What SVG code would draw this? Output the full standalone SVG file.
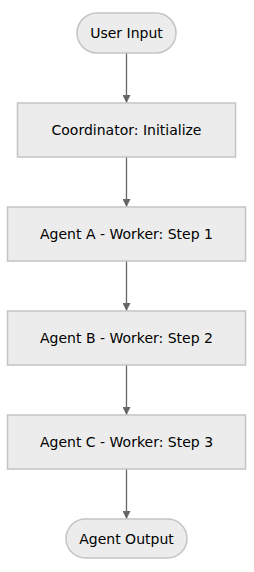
<svg xmlns="http://www.w3.org/2000/svg" width="254" height="572" viewBox="0 0 254 572">
<defs>
<style>
.n{fill:#ececec;stroke:#c4c4c4;stroke-width:1.5}
.t{font-family:"DejaVu Sans",Verdana,sans-serif;font-size:14px;fill:#000;text-anchor:middle;dominant-baseline:central}
.e{stroke:#666;stroke-width:1.3;fill:none;marker-end:url(#ah)}
</style>
<marker id="ah" viewBox="0 0 10 10" refX="10" refY="5" markerWidth="8" markerHeight="8" markerUnits="userSpaceOnUse" orient="auto">
<path d="M0,0 L10,5 L0,10 z" fill="#666"/>
</marker>
</defs>
<rect width="254" height="572" fill="#fff"/>
<g id="edges">
<line class="e" x1="126.5" y1="53" x2="126.5" y2="103"/>
<line class="e" x1="126.5" y1="157" x2="126.5" y2="207"/>
<line class="e" x1="126.5" y1="261" x2="126.5" y2="311"/>
<line class="e" x1="126.5" y1="365" x2="126.5" y2="415"/>
<line class="e" x1="126.5" y1="469" x2="126.5" y2="519"/>
</g>
<g id="user_input">
<rect class="n" x="77" y="13" width="99" height="40" rx="20" ry="20"/>
<text class="t" x="126.5" y="33">User Input</text>
</g>
<g id="coordinator">
<rect class="n" x="17.5" y="103" width="218" height="54"/>
<text class="t" x="126.5" y="130">Coordinator: Initialize</text>
</g>
<g id="agent_a">
<rect class="n" x="7.5" y="207" width="238" height="54"/>
<text class="t" x="126.5" y="234">Agent A - Worker: Step 1</text>
</g>
<g id="agent_b">
<rect class="n" x="7.5" y="311" width="238" height="54"/>
<text class="t" x="126.5" y="338">Agent B - Worker: Step 2</text>
</g>
<g id="agent_c">
<rect class="n" x="7.5" y="415" width="238" height="54"/>
<text class="t" x="126.5" y="442">Agent C - Worker: Step 3</text>
</g>
<g id="agent_output">
<rect class="n" x="66" y="519" width="121" height="39" rx="19.5" ry="19.5"/>
<text class="t" x="126.5" y="538.5">Agent Output</text>
</g>
</svg>
